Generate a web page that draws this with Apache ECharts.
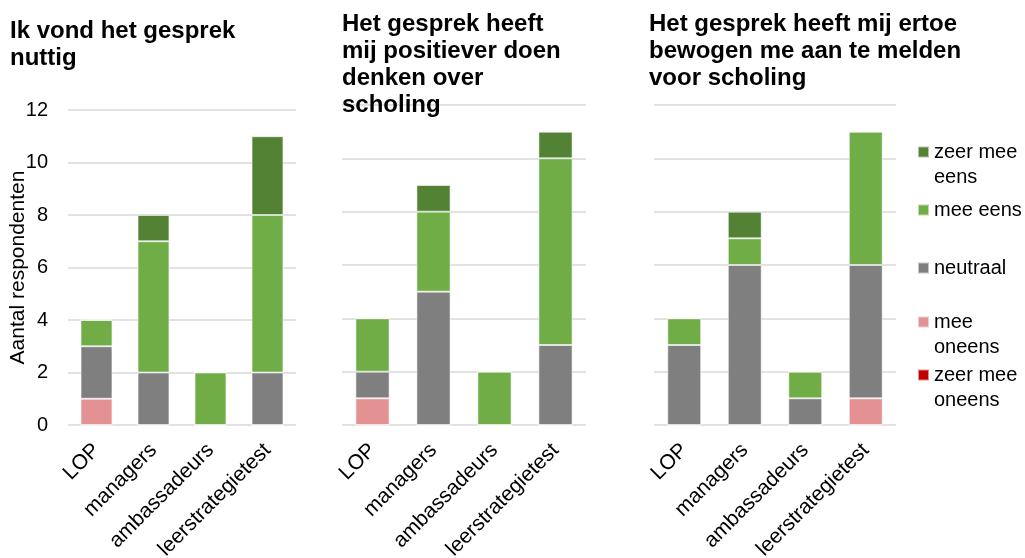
<!DOCTYPE html>
<html>
<head>
<meta charset="utf-8">
<script src="https://cdn.jsdelivr.net/npm/echarts@6/dist/echarts.min.js"></script>
<style>
  html, body { margin: 0; padding: 0; background: #fff; }
  #chart { width: 1025px; height: 558px; }
</style>
</head>
<body>
<div id="chart"></div>
<script>
// Survey answers per respondent group, three statements
const categories = ['LOP', 'managers', 'ambassadeurs', 'leerstrategietest'];
const seriesNames = ['zeer mee oneens', 'mee oneens', 'neutraal', 'mee eens', 'zeer mee eens'];
const titles = [
  'Ik vond het gesprek\nnuttig',
  'Het gesprek heeft\nmij positiever doen\ndenken over\nscholing',
  'Het gesprek heeft mij ertoe\nbewogen me aan te melden\nvoor scholing'
];
const yTicks = { min: 0, max: 12, interval: 2 };

// Statement 1: "Ik vond het gesprek nuttig"
const nuttigZeerOneens = [0, 0, 0, 0];
const nuttigOneens     = [1, 0, 0, 0];
const nuttigNeutraal   = [2, 2, 0, 2];
const nuttigEens       = [1, 5, 2, 6];
const nuttigZeerEens   = [0, 1, 0, 3];

// Statement 2: "positiever doen denken over scholing"
const positiefZeerOneens = [0, 0, 0, 0];
const positiefOneens     = [1, 0, 0, 0];
const positiefNeutraal   = [1, 5, 0, 3];
const positiefEens       = [2, 3, 2, 7];
const positiefZeerEens   = [0, 1, 0, 1];

// Statement 3: "bewogen me aan te melden voor scholing"
const aanmeldenZeerOneens = [0, 0, 0, 0];
const aanmeldenOneens     = [0, 0, 0, 1];
const aanmeldenNeutraal   = [3, 6, 1, 5];
const aanmeldenEens       = [1, 1, 1, 5];
const aanmeldenZeerEens   = [0, 1, 0, 0];

const panels = [
  [nuttigZeerOneens, nuttigOneens, nuttigNeutraal, nuttigEens, nuttigZeerEens],
  [positiefZeerOneens, positiefOneens, positiefNeutraal, positiefEens, positiefZeerEens],
  [aanmeldenZeerOneens, aanmeldenOneens, aanmeldenNeutraal, aanmeldenEens, aanmeldenZeerEens]
];

const colors = {
  'zeer mee oneens': '#C00000',
  'mee oneens': '#E39193',
  'neutraal': '#7F7F7F',
  'mee eens': '#70AD47',
  'zeer mee eens': '#548235'
};

const FONT = '"Liberation Sans", Arial, sans-serif';
const gridColor = '#D9D9D9';

// Fixed plot areas; the long rotated labels may run off the bottom edge
const grids = [
  { left: 68,  top: 110, width: 228, height: 315, outerBoundsMode: 'none' },
  { left: 342, top: 105, width: 244, height: 320, outerBoundsMode: 'none' },
  { left: 654, top: 105, width: 242, height: 320, outerBoundsMode: 'none' }
];
const titlePos = [
  { left: 10,  top: 18 },
  { left: 342, top: 11 },
  { left: 649, top: 11 }
];

const xAxis = [], yAxis = [], series = [], title = [];
panels.forEach((panel, p) => {
  title.push({
    text: titles[p],
    left: titlePos[p].left,
    top: titlePos[p].top,
    padding: 0,
    textStyle: { fontFamily: FONT, fontSize: 24, fontWeight: 'bold', lineHeight: 27, color: '#000' }
  });
  xAxis.push({
    type: 'category',
    gridIndex: p,
    data: categories,
    axisLine: { show: false },
    axisTick: { show: false },
    axisLabel: { interval: 0, rotate: 45, margin: 22, fontFamily: FONT, fontSize: 21, color: '#000' }
  });
  yAxis.push({
    type: 'value',
    gridIndex: p,
    min: yTicks.min,
    max: yTicks.max,
    interval: yTicks.interval,
    name: p === 0 ? 'Aantal respondenten' : '',
    nameLocation: 'middle',
    nameGap: 39,
    nameMoveOverlap: false,
    nameTextStyle: { fontFamily: FONT, fontSize: 21, color: '#000' },
    axisLine: { show: false },
    axisTick: { show: false },
    axisLabel: { show: p === 0, margin: 20, fontFamily: FONT, fontSize: 20, color: '#000' },
    splitLine: { lineStyle: { color: gridColor, width: 1.5 } }
  });
  panel.forEach((values, s) => {
    const name = seriesNames[s];
    series.push({
      name: name,
      type: 'bar',
      xAxisIndex: p,
      yAxisIndex: p,
      stack: 'panel' + p,
      barWidth: '56%',
      data: values,
      itemStyle: { color: colors[name], borderColor: 'rgba(255,255,255,0.55)', borderWidth: 1 },
      emphasis: { disabled: true }
    });
  });
});

// Legend entries, top to bottom; the icon lines up with the first text line,
// so two-line labels get an empty leading line to keep them centred on it
const legendItems = [
  { name: 'zeer mee eens',   label: 'zeer mee\neens',   center: 152 },
  { name: 'mee eens',        label: 'mee eens',         center: 210 },
  { name: 'neutraal',        label: 'neutraal',         center: 268 },
  { name: 'mee oneens',      label: 'mee\noneens',      center: 322 },
  { name: 'zeer mee oneens', label: 'zeer mee\noneens', center: 375 }
];
const LH = 25;
const legend = legendItems.map(item => {
  const twoLines = item.label.indexOf('\n') >= 0;
  const text = twoLines ? ' \n' + item.label : item.label;
  const blockHalf = twoLines ? (LH * 3) / 2 : LH / 2;
  return {
    data: [item.name],
    left: 917,
    top: item.center - blockHalf,
    padding: 0,
    orient: 'vertical',
    icon: 'rect',
    itemWidth: 11,
    itemHeight: 11,
    formatter: () => text,
    textStyle: { fontFamily: FONT, fontSize: 20, color: '#000', lineHeight: LH }
  };
});

const chart = echarts.init(document.getElementById('chart'), null, { renderer: 'canvas' });
chart.setOption({
  animation: false,
  backgroundColor: '#fff',
  color: seriesNames.map(n => colors[n]),
  title: title,
  legend: legend,
  grid: grids,
  xAxis: xAxis,
  yAxis: yAxis,
  series: series
});
</script>
</body>
</html>
